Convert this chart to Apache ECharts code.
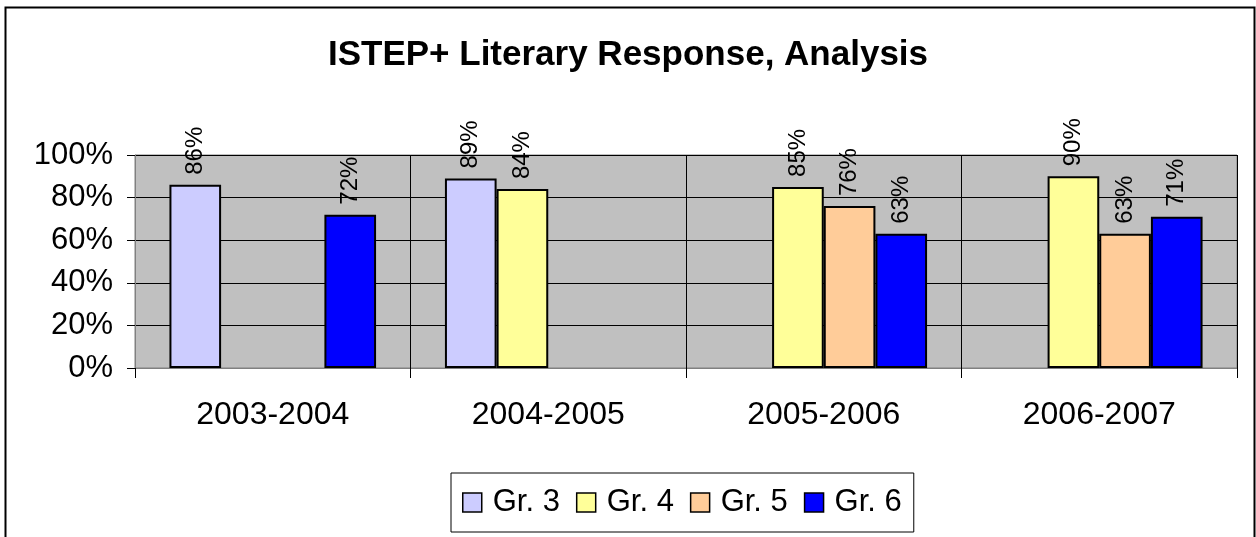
<!DOCTYPE html>
<html>
<head>
<meta charset="utf-8">
<script src="https://cdn.jsdelivr.net/npm/echarts@6/dist/echarts.min.js"></script>
<style>
  html, body { margin: 0; padding: 0; background: #fff; }
  #chart { width: 1256px; height: 537px; }
</style>
</head>
<body>
<div id="chart"></div>
<script>
const years = ['2003-2004', '2004-2005', '2005-2006', '2006-2007']
const gr3 = [86, 89, null, null]
const gr4 = [null, 84, 85, 90]
const gr5 = [null, null, 76, 63]
const gr6 = [72, null, 63, 71]
const yTicks = [0, 20, 40, 60, 80, 100]

const font = "'Liberation Sans', Arial, sans-serif"
let myChart = echarts.init(document.getElementById('chart'))

function bar(name, data, color) {
  return {
    name: name,
    type: 'bar',
    data: data,
    barGap: '0%',
    barCategoryGap: '25%',
    itemStyle: { color: color, borderColor: '#000', borderWidth: 2 },
    label: {
      show: true,
      position: 'top',
      rotate: 90,
      align: 'left',
      verticalAlign: 'middle',
      distance: 10,
      formatter: '{c}%',
      fontFamily: font,
      fontSize: 24,
      color: '#000'
    }
  }
}

let option = {
  animation: false,
  backgroundColor: '#fff',
  graphic: [{
    type: 'rect',
    shape: { x: 5.5, y: 7.5, width: 1249, height: 560 },
    style: { fill: 'none', stroke: '#000', lineWidth: 2 },
    silent: true
  }],
  title: {
    text: 'ISTEP+ Literary Response, Analysis',
    left: 'center',
    top: 33,
    textStyle: { fontFamily: font, fontSize: 35, fontWeight: 'bold', color: '#000' }
  },
  legend: {
    left: 451,
    top: 473,
    padding: [14, 12, 14, 11],
    borderColor: '#000',
    borderWidth: 1,
    itemWidth: 19,
    itemHeight: 19,
    itemGap: 16,
    icon: 'rect',
    itemStyle: { borderColor: '#000', borderWidth: 1.5 },
    textStyle: { fontFamily: font, fontSize: 31, color: '#000', padding: [0, 0, 0, 6] },
    data: ['Gr. 3', 'Gr. 4', 'Gr. 5', 'Gr. 6']
  },
  grid: {
    left: 135,
    right: 19,
    top: 155,
    bottom: 169,
    show: true,
    backgroundColor: '#C0C0C0',
    borderColor: '#808080',
    borderWidth: 1
  },
  xAxis: {
    type: 'category',
    data: years,
    axisLine: { show: true, lineStyle: { color: '#808080', width: 1 } },
    axisTick: { show: true, length: 10, lineStyle: { color: '#000' } },
    splitLine: { show: true, lineStyle: { color: '#000', width: 1 } },
    axisLabel: { fontFamily: font, fontSize: 32, color: '#000', margin: 31 }
  },
  yAxis: {
    type: 'value',
    min: yTicks[0],
    max: yTicks[yTicks.length - 1],
    interval: 20,
    axisLine: { show: true, lineStyle: { color: '#808080' } },
    axisTick: { show: true, length: 8, lineStyle: { color: '#000' } },
    splitLine: { show: true, lineStyle: { color: '#000', width: 1 } },
    axisLabel: { fontFamily: font, fontSize: 31, color: '#000', margin: 22, formatter: '{value}%' }
  },
  series: [
    bar('Gr. 3', gr3, '#CCCCFF'),
    bar('Gr. 4', gr4, '#FFFF99'),
    bar('Gr. 5', gr5, '#FFCC99'),
    bar('Gr. 6', gr6, '#0000FF')
  ]
}
myChart.setOption(option)
</script>
</body>
</html>
